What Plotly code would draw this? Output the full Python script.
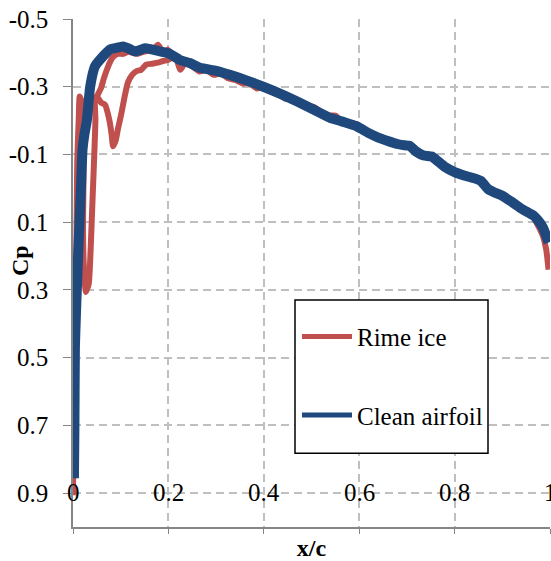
import plotly.graph_objects as go

# ---------------- data ----------------
clean_x = [0.002, 0.003, 0.004, 0.006, 0.008, 0.011, 0.014, 0.018, 0.020, 0.024, 0.029, 0.036,
           0.046, 0.060, 0.078, 0.095, 0.105, 0.118, 0.130, 0.140, 0.151, 0.165, 0.183, 0.203,
           0.224, 0.245, 0.266, 0.30, 0.329, 0.365, 0.399, 0.435, 0.469, 0.505, 0.539, 0.565,
           0.595, 0.62, 0.64, 0.66, 0.68, 0.695, 0.705, 0.72, 0.735, 0.752, 0.765, 0.78, 0.80,
           0.82, 0.845, 0.855, 0.87, 0.885, 0.90, 0.92, 0.94, 0.955, 0.965, 0.975, 0.985, 0.992, 0.997]
clean_cp = [0.856, 0.70, 0.47, 0.38, 0.30, 0.19, 0.09, -0.05, -0.115, -0.16, -0.20, -0.30,
            -0.36, -0.385, -0.41, -0.416, -0.419, -0.412, -0.404, -0.408, -0.414, -0.41, -0.404, -0.397,
            -0.379, -0.37, -0.356, -0.347, -0.335, -0.318, -0.300, -0.279, -0.257, -0.232, -0.208, -0.197,
            -0.183, -0.163, -0.15, -0.14, -0.131, -0.127, -0.126, -0.108, -0.097, -0.094, -0.08, -0.063, -0.048,
            -0.038, -0.028, -0.022, 0.002, 0.013, 0.022, 0.04, 0.06, 0.072, 0.08, 0.095, 0.115, 0.14, 0.16]

rime_x = [0.000, 0.001, 0.002, 0.003, 0.005, 0.007, 0.008, 0.009, 0.012, 0.014, 0.018, 0.021,
          0.022, 0.021, 0.023, 0.027, 0.033, 0.037, 0.041, 0.045, 0.047, 0.046, 0.050, 0.059,
          0.067, 0.076, 0.081, 0.084, 0.090, 0.094, 0.101, 0.107, 0.115, 0.124, 0.134, 0.143,
          0.153, 0.166, 0.178, 0.189, 0.199, 0.208, 0.215, 0.225, 0.235, 0.25, 0.265, 0.28,
          0.295, 0.31, 0.325, 0.34, 0.355, 0.37, 0.385, 0.40, 0.415, 0.43, 0.445, 0.46, 0.475,
          0.49, 0.505, 0.52, 0.535, 0.55, 0.565, 0.58, 0.595, 0.61, 0.625, 0.64, 0.66, 0.68,
          0.70, 0.72, 0.74, 0.755, 0.77, 0.79, 0.81, 0.83, 0.85, 0.87, 0.89, 0.91, 0.93, 0.95,
          0.965, 0.975, 0.985, 0.992, 0.997]
rime_cp = [0.906, 0.768, 0.621, 0.474, 0.326, 0.179, 0.032, -0.085, -0.203, -0.271, -0.256, -0.174,
           -0.026, 0.121, 0.238, 0.306, 0.282, 0.179, 0.032, -0.115, -0.203, -0.262, -0.271, -0.253,
           -0.247, -0.203, -0.159, -0.124, -0.144, -0.174, -0.218, -0.262, -0.312, -0.335, -0.347, -0.350,
           -0.365, -0.368, -0.371, -0.376, -0.379, -0.385, -0.39, -0.35, -0.37, -0.36, -0.345, -0.35,
           -0.335, -0.34, -0.325, -0.32, -0.31, -0.31, -0.295, -0.30, -0.285, -0.28, -0.265, -0.265, -0.25,
           -0.245, -0.24, -0.225, -0.215, -0.215, -0.195, -0.19, -0.19, -0.17, -0.165, -0.152, -0.14, -0.132,
           -0.128, -0.108, -0.096, -0.094, -0.074, -0.058, -0.045, -0.035, -0.026, 0.0, 0.015, 0.03, 0.05, 0.068,
           0.085, 0.11, 0.14, 0.18, 0.24]

rime_branch_x = [0.050, 0.059, 0.065, 0.071, 0.078, 0.084, 0.094, 0.105, 0.115, 0.126, 0.136,
                 0.147, 0.157, 0.168, 0.178, 0.189, 0.199, 0.208]
rime_branch_cp = [-0.271, -0.297, -0.326, -0.350, -0.374, -0.388, -0.397, -0.397, -0.403, -0.400, -0.397,
                  -0.403, -0.406, -0.409, -0.424, -0.403, -0.409, -0.394]

x_tick_vals = [0, 0.2, 0.4, 0.6, 0.8, 1.0]
x_tick_text = ["0", "0.2", "0.4", "0.6", "0.8", "1"]
y_tick_vals = [-0.5, -0.3, -0.1, 0.1, 0.3, 0.5, 0.7, 0.9]
y_tick_text = ["-0.5", "-0.3", "-0.1", "0.1", "0.3", "0.5", "0.7", "0.9"]

RED = "#C0504D"
BLUE = "#1F497D"
FONT = "'Liberation Serif', 'Times New Roman', Times, 'DejaVu Serif', serif"
GRID = "#BFBFBF"
AXIS = "#868686"
FS = 25

W, H = 551, 561
ML, MR, MT, MB = 73, 1, 19, 32
PW, PH = W - ML - MR, H - MT - MB


def px_x(p):
    return (p - ML) / PW


def px_y(p):
    return (H - MB - p) / PH


fig = go.Figure()
fig.add_trace(go.Scatter(
    x=rime_x + [None] + rime_branch_x,
    y=rime_cp + [None] + rime_branch_cp,
    mode="lines", name="Rime ice", legendgroup="rime", showlegend=False,
    line=dict(color=RED, width=6, shape="spline", smoothing=0.5), connectgaps=False,
))
fig.add_trace(go.Scatter(
    x=clean_x, y=clean_cp, mode="lines", name="Clean airfoil", legendgroup="clean", showlegend=False,
    line=dict(color=BLUE, width=10, shape="spline", smoothing=0.5),
))
# legend keys (thinner lines, as in the original legend)
fig.add_trace(go.Scatter(x=[None], y=[None], mode="lines", name="Rime ice", legendgroup="rime",
                         line=dict(color=RED, width=5)))
fig.add_trace(go.Scatter(x=[None], y=[None], mode="lines", name="Clean airfoil", legendgroup="clean",
                         line=dict(color=BLUE, width=5)))

# x tick labels sit on the 0.9 gridline (as in the original)
for v, t in zip(x_tick_vals, x_tick_text):
    fig.add_annotation(x=v, y=y_tick_vals[-1], xref="x", yref="y", text=t, showarrow=False,
                       xanchor="center", yanchor="middle", yshift=1,
                       font=dict(family=FONT, size=FS, color="black"))

fig.add_annotation(x=px_x(20), y=px_y(262), xref="paper", yref="paper", text="<b>Cp</b>",
                   showarrow=False, textangle=-90, xanchor="center", yanchor="middle",
                   font=dict(family=FONT, size=24, color="black"))

# legend frame
fig.add_shape(type="rect", xref="paper", yref="paper",
              x0=px_x(295), x1=px_x(488), y0=px_y(455), y1=px_y(301),
              line=dict(color="black", width=1.5), fillcolor="white", layer="above")

fig.update_layout(
    width=W, height=H,
    margin=dict(l=ML, r=MR, t=MT, b=MB),
    paper_bgcolor="white", plot_bgcolor="white",
    font=dict(family=FONT, size=FS, color="black"),
    showlegend=True,
    legend=dict(x=px_x(297), y=px_y(315), xanchor="left", yanchor="top",
                bgcolor="rgba(0,0,0,0)", borderwidth=0, itemwidth=50,
                tracegroupgap=43, font=dict(family=FONT, size=FS, color="black")),
    xaxis=dict(range=[0, 1], tickvals=x_tick_vals, showticklabels=False,
               showgrid=True, gridcolor=GRID, gridwidth=1.5, griddash="8px,5px",
               showline=True, linecolor=AXIS, linewidth=1.5,
               ticks="outside", ticklen=5, tickcolor=AXIS, zeroline=False,
               title=dict(text="<b>x/c</b>", font=dict(family=FONT, size=24), standoff=11)),
    yaxis=dict(range=[1.0, -0.5], tickvals=y_tick_vals, ticktext=y_tick_text,
               showgrid=True, gridcolor=GRID, gridwidth=1.5, griddash="8px,5px",
               showline=True, linecolor=AXIS, linewidth=1.5,
               ticks="outside", ticklen=8, tickcolor=AXIS, zeroline=False,
               ticklabelstandoff=10, tickfont=dict(family=FONT, size=FS)),
)

fig.write_html("out.html")
